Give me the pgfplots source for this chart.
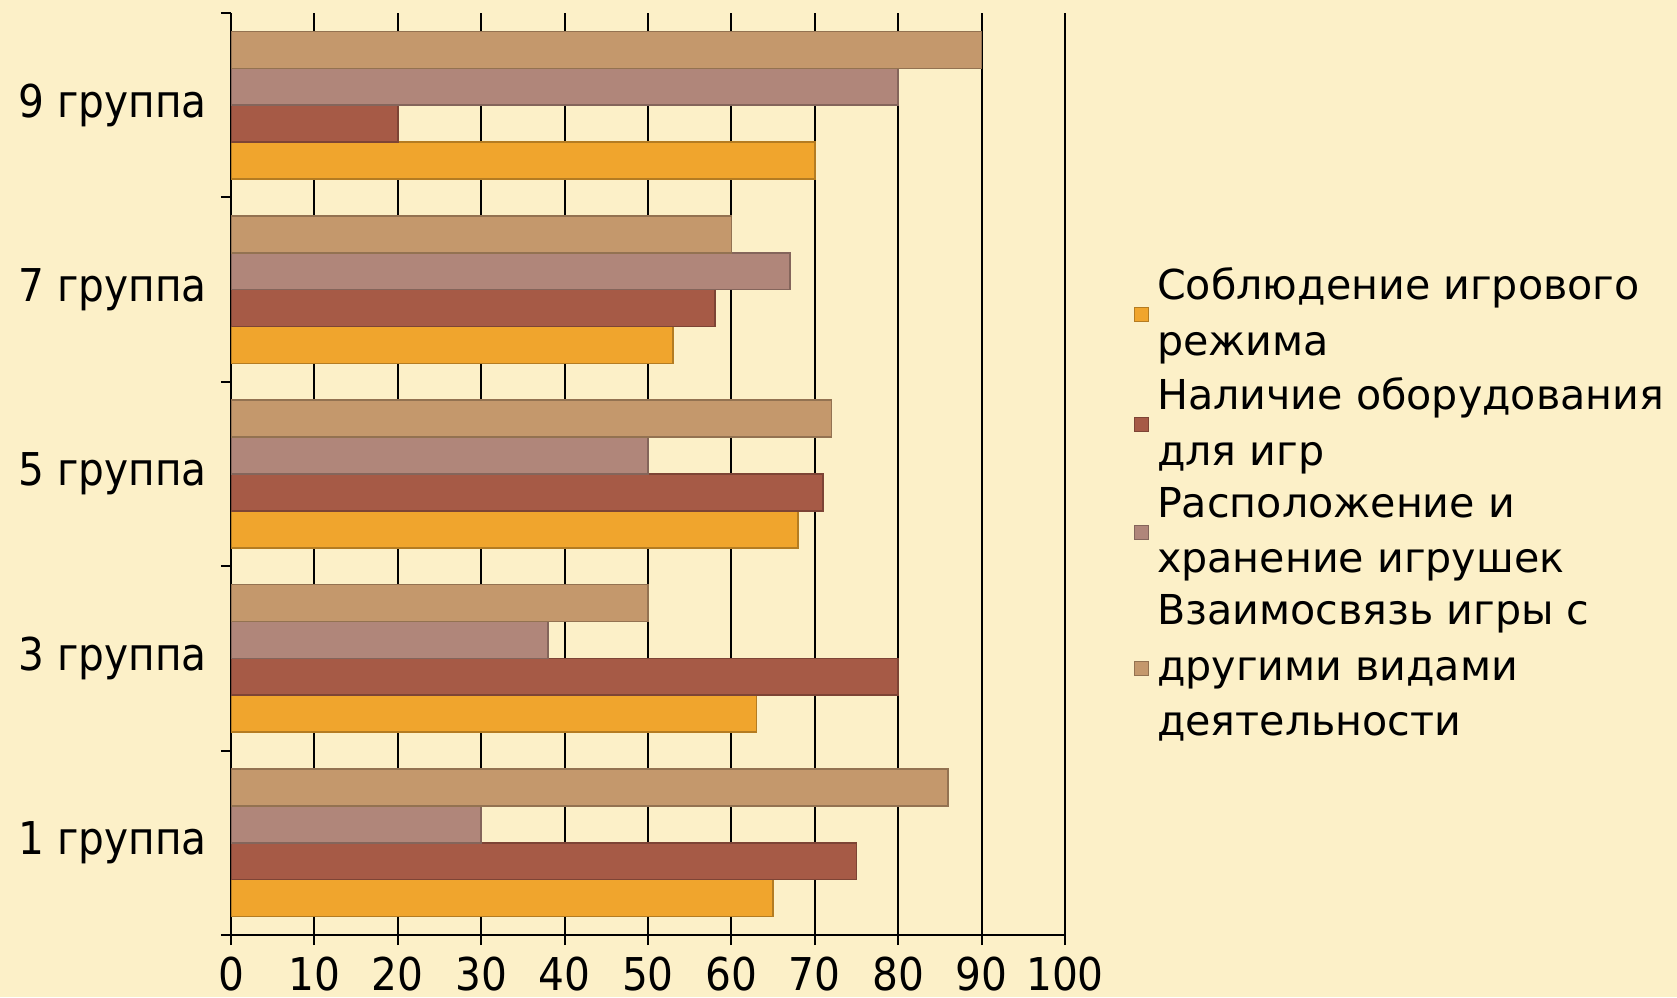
\documentclass[border=0pt]{standalone}
\usepackage{fontspec}
\setmainfont{DejaVu Sans}
\newfontfamily\condfont{DejaVu Sans Condensed}
\usepackage{pgfplots}
\pgfplotsset{compat=1.18}
\definecolor{bg}{RGB}{252,240,200}
\definecolor{cA}{RGB}{240,165,45}
\definecolor{cB}{RGB}{166,90,70}
\definecolor{cC}{RGB}{176,134,122}
\definecolor{cD}{RGB}{196,152,108}
\begin{document}
\begin{tikzpicture}
\fill[bg,use as bounding box] (-57.75pt,-15.5pt) rectangle (361.5pt,233.75pt);
\begin{axis}[
  at={(0,0)}, anchor=south west,
  scale only axis, width=208.5pt, height=230.5pt,
  xbar, bar width=0.2,
  xmin=0, xmax=100, ymin=-0.5, ymax=4.5,
  axis lines=left, axis line style={-, line width=0.5pt},
  xtick={0,10,...,100},
  xmajorgrids, major grid style={black, line width=0.5pt},
  tick align=outside,
  major tick length=2.5pt,
  ytick={0,1,2,3,4},
  yticklabels={1 группа,3 группа,5 группа,7 группа,9 группа},
  minor ytick={-0.5,0.5,1.5,2.5,3.5,4.5},
  minor tick length=2.5pt,
  y tick style={draw=none},
  minor y tick style={draw=black, line width=0.5pt},
  x tick style={black, line width=0.5pt},
  /pgf/number format/assume math mode=true,
  ticklabel style={font=\condfont\fontsize{11.3}{13}\selectfont},
  yticklabel style={xshift=0pt},
  xticklabel style={yshift=0.6pt},
  legend style={at={(1,1)}, anchor=north west, xshift=14pt, yshift=-59.5pt,
     draw=none, fill=none, font=\fontsize{10.3}{13.9}\selectfont,
     cells={anchor=west, align=left}, row sep=0pt},
  legend image code/.code={\draw[#1, line width=0.3pt] (0cm,-0.062cm) rectangle (0.124cm,0.062cm);},
]
\addplot[fill=cA, draw=cA!75!black, line width=0.4pt, bar shift=-0.3] coordinates {(65,0) (63,1) (68,2) (53,3) (70,4)};
\addlegendentry{Соблюдение игрового\\режима}
\addplot[fill=cB, draw=cB!75!black, line width=0.4pt, bar shift=-0.1] coordinates {(75,0) (80,1) (71,2) (58,3) (20,4)};
\addlegendentry{Наличие оборудования\\для игр}
\addplot[fill=cC, draw=cC!75!black, line width=0.4pt, bar shift=0.1] coordinates {(30,0) (38,1) (50,2) (67,3) (80,4)};
\addlegendentry{Расположение и\\хранение игрушек}
\addplot[fill=cD, draw=cD!75!black, line width=0.4pt, bar shift=0.3] coordinates {(86,0) (50,1) (72,2) (60,3) (90,4)};
\addlegendentry{Взаимосвязь игры с\\другими видами\\деятельности}
\end{axis}
\end{tikzpicture}
\end{document}
